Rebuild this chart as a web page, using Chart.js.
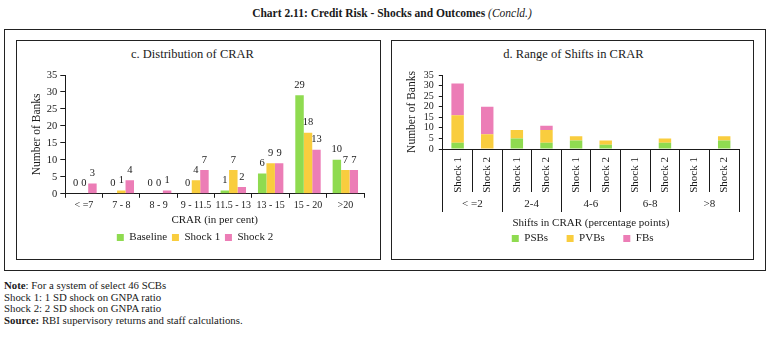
<!DOCTYPE html>
<html>
<head>
<meta charset="utf-8">
<script src="https://cdn.jsdelivr.net/npm/chart.js@4"></script>
<style>
  body { margin: 0; background: #fff; font-family: "Liberation Serif", serif; color: #1a1a1a; }
  #page { position: relative; width: 770px; height: 341px; overflow: hidden; }
  .box { position: absolute; border: 1px solid #222; box-sizing: border-box; }
  .title { position: absolute; white-space: nowrap; text-align: center; }
  .notes { position: absolute; left: 4px; top: 280px; font-size: 10.8px; line-height: 11.5px; }
  canvas { position: absolute; }
</style>
</head>
<body>
<div id="page">
  <div class="title" style="left:0;width:784px;top:7px;font-size:11.5px;font-weight:bold;">Chart 2.11: Credit Risk - Shocks and Outcomes <i style="font-weight:normal">(Concld.)</i></div>
  <div class="box" style="left:4px;top:29px;width:762px;height:242px;"></div>
  <div class="box" style="left:16px;top:40px;width:365px;height:220px;"></div>
  <div class="box" style="left:391px;top:40px;width:363px;height:220px;"></div>
  <div class="title" style="left:16px;width:353px;top:47px;font-size:12.5px;">c. Distribution of CRAR</div>
  <div class="title" style="left:391px;width:365px;top:47px;font-size:12.5px;">d. Range of Shifts in CRAR</div>
  <div style="position:absolute;left:17px;top:64px;width:363px;height:194px;"><canvas id="crar"></canvas></div>
  <div style="position:absolute;left:392px;top:64px;width:361px;height:194px;"><canvas id="shifts"></canvas></div>
  <div class="notes">
    <div><b>Note</b>: For a system of select 46 SCBs</div>
    <div>Shock 1: 1 SD shock on GNPA ratio</div>
    <div>Shock 2: 2 SD shock on GNPA ratio</div>
    <div><b>Source:</b> RBI supervisory returns and staff calculations.</div>
  </div>
</div>
<script>
// Panel c: distribution of CRAR
var crarBins = ['< =7', '7 - 8', '8 - 9', '9 - 11.5', '11.5 - 13', '13 - 15', '15 - 20', '>20'];
var baseline = [0, 0, 0, 0, 1, 6, 29, 10];
var shock1 = [0, 1, 0, 4, 7, 9, 18, 7];
var shock2 = [3, 4, 1, 7, 2, 9, 13, 7];

// Panel d: range of shifts in CRAR (stacked by bank group)
var shiftGroups = ['< =2', '2-4', '4-6', '6-8', '>8'];
var shiftBars = ['Shock 1', 'Shock 2', 'Shock 1', 'Shock 2', 'Shock 1', 'Shock 2', 'Shock 1', 'Shock 2', 'Shock 1', 'Shock 2'];
var psbs = [3, 0, 5, 3, 4, 2, 0, 3, 0, 4];
var pvbs = [13, 7, 4, 6, 2, 2, 0, 2, 0, 2];
var fbs = [15, 13, 0, 2, 0, 0, 0, 0, 0, 0];

var yTicks = [0, 5, 10, 15, 20, 25, 30, 35];

var green = '#8fdb50';
var yellow = '#f9cd3e';
var pink = '#ec7db6';
var ink = '#1a1a1a';
var serif = '"Liberation Serif", serif';

Chart.defaults.font.family = serif;
Chart.defaults.color = ink;
Chart.defaults.animation = false;

// writes each bar's value above it
var valueLabels = {
	id: 'valueLabels',
	afterDatasetsDraw: function (chart) {
		var ctx = chart.ctx;
		ctx.save();
		ctx.font = '10.5px ' + serif;
		ctx.fillStyle = ink;
		ctx.textAlign = 'center';
		ctx.textBaseline = 'bottom';
		chart.data.datasets.forEach(function (ds, i) {
			chart.getDatasetMeta(i).data.forEach(function (bar, j) {
				ctx.fillText(ds.data[j], bar.x, bar.y - 5);
			});
		});
		ctx.restore();
	}
};

function yAxis(fontSize, tick, pad) {
	return {
		min: 0,
		max: 35,
		afterBuildTicks: function (scale) {
			scale.ticks = yTicks.map(function (v) { return { value: v }; });
		},
		border: { color: ink },
		grid: { drawOnChartArea: false, tickLength: tick, color: ink },
		ticks: { font: { size: fontSize }, padding: pad, autoSkip: false },
		title: { display: true, text: 'Number of Banks', font: { size: 11.5 }, padding: { top: 4, bottom: 0 } }
	};
}

// pads legend text so items sit further apart without growing the legend's height
function spacedLabels(extra, all) {
	return function (chart) {
		var items = Chart.defaults.plugins.legend.labels.generateLabels(chart);
		items.forEach(function (it, i) {
			if (all || i < items.length - 1) it.text = it.text + extra;
		});
		return items;
	};
}

new Chart(document.getElementById('crar'), {
	type: 'bar',
	data: {
		labels: crarBins,
		datasets: [
			{ label: 'Baseline', data: baseline, backgroundColor: green },
			{ label: 'Shock 1', data: shock1, backgroundColor: yellow },
			{ label: 'Shock 2', data: shock2, backgroundColor: pink }
		]
	},
	options: {
		responsive: true,
		maintainAspectRatio: false,
		layout: { padding: { left: 9, right: 16, top: 11, bottom: 5 } },
		datasets: { bar: { categoryPercentage: 0.68, barPercentage: 1.0 } },
		scales: {
			x: {
				border: { color: ink },
				grid: { drawOnChartArea: false, tickLength: 4, color: ink },
				ticks: { font: { size: 10 }, padding: 2, minRotation: 0, maxRotation: 0, autoSkip: false },
				title: { display: true, text: 'CRAR (in per cent)', font: { size: 11 }, padding: { top: 0, bottom: 3 } }
			},
			y: yAxis(10.5, 5, 3)
		},
		plugins: {
			legend: {
				position: 'bottom',
				labels: {
					boxWidth: 7, boxHeight: 7, padding: 2, font: { size: 11 },
					generateLabels: spacedLabels('\u00a0', false)
				}
			},
			tooltip: { enabled: false }
		}
	},
	plugins: [valueLabels]
});

new Chart(document.getElementById('shifts'), {
	type: 'bar',
	data: {
		labels: shiftBars,
		datasets: [
			{ label: 'PSBs', data: psbs, backgroundColor: green },
			{ label: 'PVBs', data: pvbs, backgroundColor: yellow },
			{ label: 'FBs', data: fbs, backgroundColor: pink }
		]
	},
	options: {
		responsive: true,
		maintainAspectRatio: false,
		layout: { padding: { left: 9, right: 14, top: 11, bottom: 4 } },
		datasets: { bar: { categoryPercentage: 0.42, barPercentage: 1.0 } },
		scales: {
			x: {
				stacked: true,
				weight: 0,
				border: { color: ink },
				grid: { drawOnChartArea: false, tickLength: 43, color: ink, offset: true },
				ticks: { font: { size: 11 }, padding: -35, minRotation: 90, maxRotation: 90, autoSkip: false },
				// labels sit between the separator lines, so the band is just the line length
				afterFit: function (scale) { scale.height = 43; }
			},
			groups: {
				type: 'category',
				position: 'bottom',
				weight: 1,
				labels: shiftGroups,
				offset: true,
				border: { display: false },
				grid: { drawOnChartArea: false, tickLength: 20, color: ink, offset: true },
				ticks: { font: { size: 11 }, padding: -14, autoSkip: false, maxRotation: 0 },
				title: { display: true, text: 'Shifts in CRAR (percentage points)', font: { size: 11 }, padding: { top: 0, bottom: 1 } },
				afterFit: function (scale) { scale.height = 39; }
			},
			y: Object.assign(yAxis(10, 4, 5), { stacked: true })
		},
		plugins: {
			legend: {
				position: 'bottom',
				fullSize: false,
				labels: {
					boxWidth: 7, boxHeight: 7, padding: 2, font: { size: 11 },
					generateLabels: spacedLabels('\u00a0\u00a0\u00a0\u00a0\u00a0\u00a0', true)
				}
			},
			tooltip: { enabled: false }
		}
	}
});
</script>
</body>
</html>
